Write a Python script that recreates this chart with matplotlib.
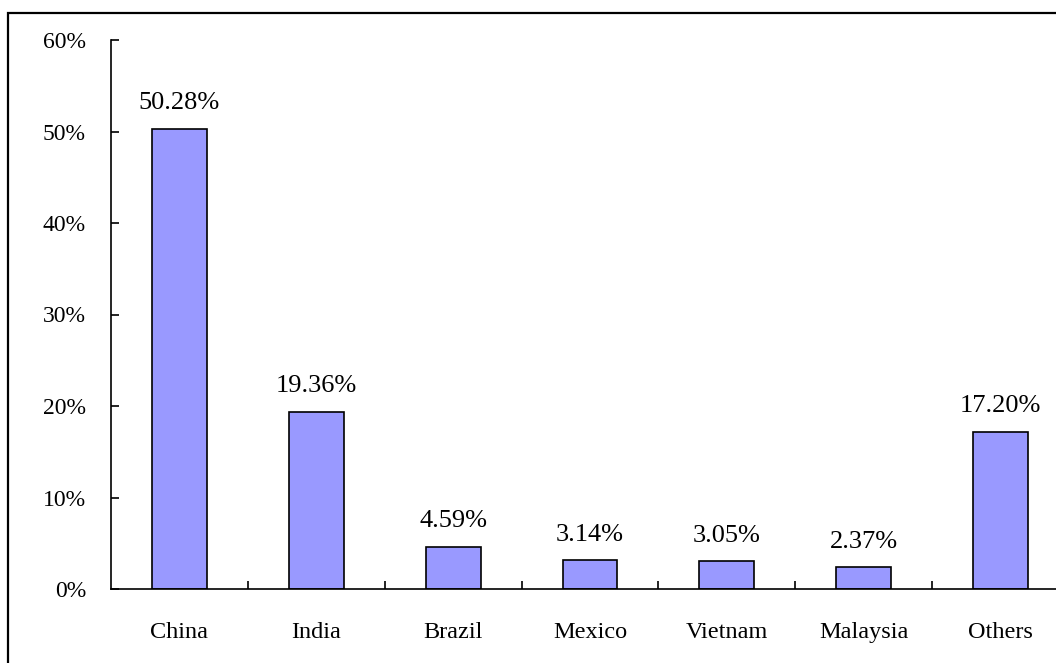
import numpy as np
import matplotlib.pyplot as plt
from matplotlib.patches import Rectangle

# Share by country
countries = ['China', 'India', 'Brazil', 'Mexico', 'Vietnam', 'Malaysia', 'Others']
shares = [50.28, 19.36, 4.59, 3.14, 3.05, 2.37, 17.20]
yticks = [0, 10, 20, 30, 40, 50, 60]

plt.rcParams['font.family'] = ['Liberation Serif', 'DejaVu Serif']

fig = plt.figure(figsize=(10.56, 6.63), dpi=100, facecolor='w')

# frame around the chart area
fig.patches.append(Rectangle((8 / 1056, -0.1), 1.2, (650 + 66) / 663,
                             transform=fig.transFigure, fill=False,
                             edgecolor='black', linewidth=1.6))

ax = fig.add_axes([111 / 1056, 74 / 663, 958 / 1056, 549 / 663])

x = np.arange(len(countries))
ax.bar(x, shares, width=0.4, color='#9999FF', edgecolor='black', linewidth=1.2)

for xi, v in zip(x, shares):
    ax.annotate('{:.2f}%'.format(v), (xi, v), xytext=(0, 10.5), textcoords='offset points',
                ha='center', va='bottom', fontsize=19)

ax.set_xlim(-0.5, len(countries) - 0.5)
ax.set_ylim(0, 60)

ax.set_yticks(yticks)
ax.set_yticklabels(['{}%'.format(t) for t in yticks], fontsize=17)
ax.tick_params(axis='y', direction='in', length=6, width=1.2, pad=18)

ax.set_xticks(x)
ax.set_xticklabels(countries, fontsize=17.5)
ax.set_xticks(x[:-1] + 0.5, minor=True)
ax.tick_params(axis='x', which='major', length=0, pad=23.5)
ax.tick_params(axis='x', which='minor', direction='in', length=6, width=1.2)

for s in ['top', 'right']:
    ax.spines[s].set_visible(False)
for s in ['left', 'bottom']:
    ax.spines[s].set_linewidth(1.2)

plt.savefig('out.png', dpi=100)
